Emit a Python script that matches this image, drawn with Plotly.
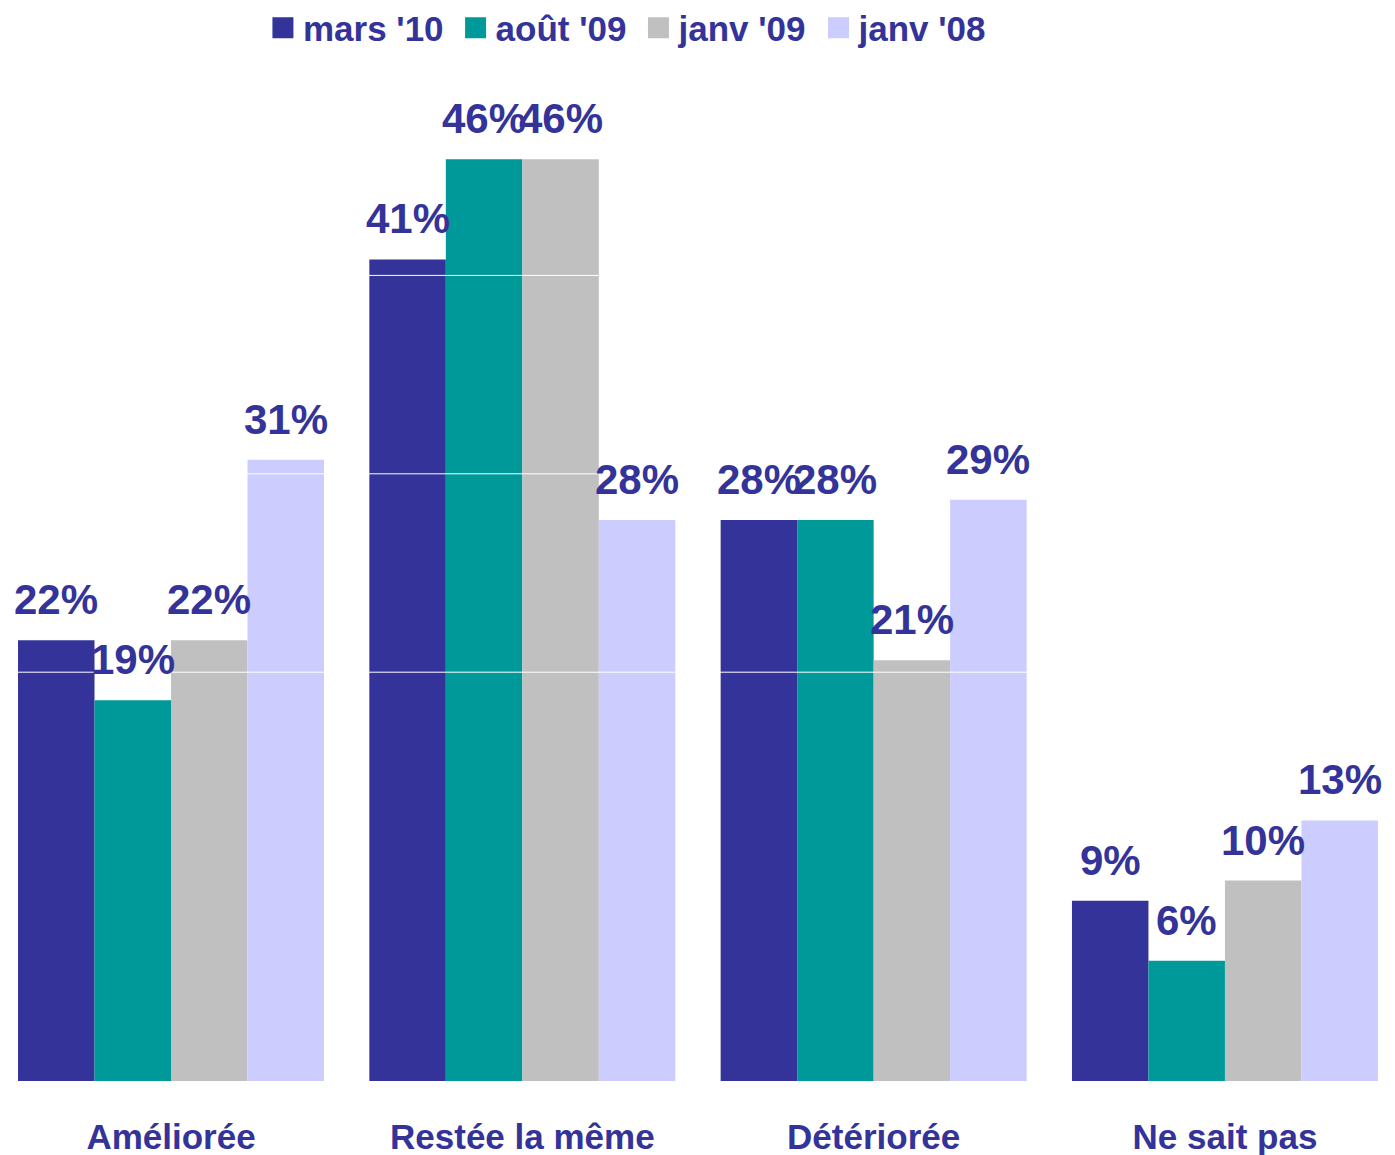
import plotly.graph_objects as go

categories = ["Améliorée", "Restée la même", "Détériorée", "Ne sait pas"]
series_names = ["mars '10", "août '09", "janv '09", "janv '08"]
mars_10 = [22, 41, 28, 9]
aout_09 = [19, 46, 28, 6]
janv_09 = [22, 46, 21, 10]
janv_08 = [31, 28, 29, 13]
series_values = [mars_10, aout_09, janv_09, janv_08]
colors = ["#333399", "#009999", "#C0C0C0", "#CCCCFF"]
grid_levels = [20.4, 30.3, 40.2]

TXT = "#333399"
FONT = "Liberation Sans, Arial, sans-serif"
BARGAP = 0.129

fig = go.Figure()
for name, vals, col in zip(series_names, series_values, colors):
    fig.add_trace(go.Bar(x=categories, y=vals, name=name, marker_color=col,
                         marker_line_width=0, showlegend=False))
    fig.add_trace(go.Scatter(x=[None], y=[None], mode="markers", name=name + "\u2009",
                             marker=dict(symbol="square", size=16, color=col,
                                         line=dict(color=col, width=5))))

n = len(series_names)
w = (1 - BARGAP) / n
annotations = []
for j, vals in enumerate(series_values):
    for i, v in enumerate(vals):
        annotations.append(dict(x=i + (j - (n - 1) / 2) * w, y=v, xref="x", yref="y",
                                text=f"{v}%", showarrow=False, yanchor="bottom",
                                yshift=15,
                                font=dict(family=FONT, size=42, color=TXT, weight="bold")))

shapes = [dict(type="line", xref="paper", x0=0, x1=1, yref="y", y0=g, y1=g,
               line=dict(color="white", width=1), layer="above") for g in grid_levels]

fig.update_layout(
    width=1387, height=1147,
    margin=dict(l=0, r=0, t=52, b=74, autoexpand=False),
    paper_bgcolor="white", plot_bgcolor="white",
    barmode="group", bargap=BARGAP, bargroupgap=0,
    font=dict(family=FONT, color=TXT),
    annotations=annotations, shapes=shapes,
    legend=dict(orientation="h", x=0.1838, xanchor="left", y=1.0313, yanchor="middle",
                font=dict(family=FONT, size=35, color=TXT, weight="bold"),
                itemwidth=30, tracegroupgap=0, bgcolor="rgba(0,0,0,0)"),
    xaxis=dict(range=[-0.464, 3.484], showgrid=False, showline=False, ticks="",
               tickfont=dict(family=FONT, size=35, color=TXT, weight="bold"),
               ticklabelstandoff=32),
    yaxis=dict(range=[0, 50.95], showgrid=False, zeroline=False, showticklabels=False,
               showline=False),
)
fig.write_html("out.html")
